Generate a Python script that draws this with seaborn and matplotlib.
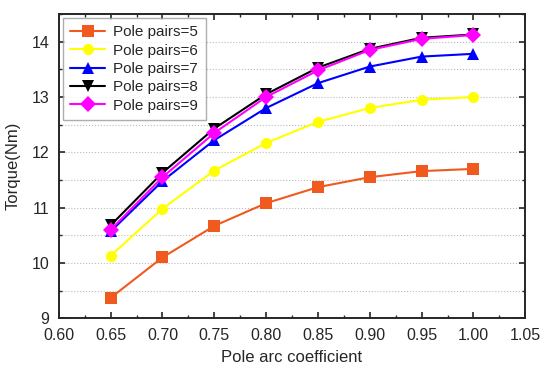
import numpy as np
import pandas as pd
import matplotlib
matplotlib.use('Agg')
import matplotlib.pyplot as plt
import seaborn as sns
from matplotlib.ticker import MultipleLocator

sns.set_style("ticks")
plt.rcParams['font.family'] = ['Liberation Sans', 'DejaVu Sans']

# Дані
pole_arc = [0.65, 0.70, 0.75, 0.80, 0.85, 0.90, 0.95, 1.00]
torque_p5 = [9.37, 10.10, 10.67, 11.08, 11.37, 11.55, 11.66, 11.70]
torque_p6 = [10.13, 10.98, 11.67, 12.17, 12.55, 12.80, 12.95, 13.00]
torque_p7 = [10.57, 11.48, 12.22, 12.80, 13.25, 13.55, 13.73, 13.78]
torque_p8 = [10.68, 11.63, 12.43, 13.05, 13.53, 13.87, 14.07, 14.13]
torque_p9 = [10.60, 11.55, 12.35, 13.00, 13.48, 13.85, 14.05, 14.12]
series_labels = ['Pole pairs=5', 'Pole pairs=6', 'Pole pairs=7',
                 'Pole pairs=8', 'Pole pairs=9']

colors = ['#F05A1E', '#FFFF00', '#0000FF', '#000000', '#FF00FF']
markers = ['s', 'o', '^', 'v', 'D']

rows = []
for lab, vals in zip(series_labels, [torque_p5, torque_p6, torque_p7, torque_p8, torque_p9]):
    for x, y in zip(pole_arc, vals):
        rows.append({'coef': x, 'torque': y, 'series': lab})
df = pd.DataFrame(rows)

fig, ax = plt.subplots(figsize=(5.5, 3.78), dpi=100)
sns.lineplot(data=df, x='coef', y='torque', hue='series', style='series',
             palette=dict(zip(series_labels, colors)),
             markers=dict(zip(series_labels, markers)),
             dashes=False, markersize=8, linewidth=1.5,
             markeredgewidth=0, ax=ax)

ax.set_xlim(0.60, 1.05)
ax.set_ylim(9, 14.5)
ax.xaxis.set_major_locator(MultipleLocator(0.05))
ax.xaxis.set_minor_locator(MultipleLocator(0.025))
ax.yaxis.set_major_locator(MultipleLocator(1))
ax.yaxis.set_minor_locator(MultipleLocator(0.5))
ax.xaxis.set_major_formatter(plt.FormatStrFormatter('%.2f'))
ax.tick_params(which='both', direction='in', top=True, right=True,
               labeltop=False, labelright=False)
ax.tick_params(which='major', length=4, width=1.2, labelsize=11.5, pad=7)
ax.tick_params(which='minor', length=2.5, width=1)
ax.grid(True, which='both', axis='y', linestyle=':', color='#BBBBBB', linewidth=0.8)
for sp in ax.spines.values():
    sp.set_linewidth(1.4)

ax.set_xlabel('Pole arc coefficient', fontsize=12, labelpad=5)
ax.set_ylabel('Torque(Nm)', fontsize=12, labelpad=8)

leg = ax.legend(loc='upper left', fontsize=11, frameon=True, fancybox=False,
                edgecolor='#999999', handlelength=2.3, borderpad=0.5,
                labelspacing=0.28, handletextpad=0.5, borderaxespad=0.25)
leg.get_frame().set_linewidth(1.0)

plt.subplots_adjust(left=0.107, right=0.955, top=0.963, bottom=0.158)
plt.savefig('out.png', dpi=100)
